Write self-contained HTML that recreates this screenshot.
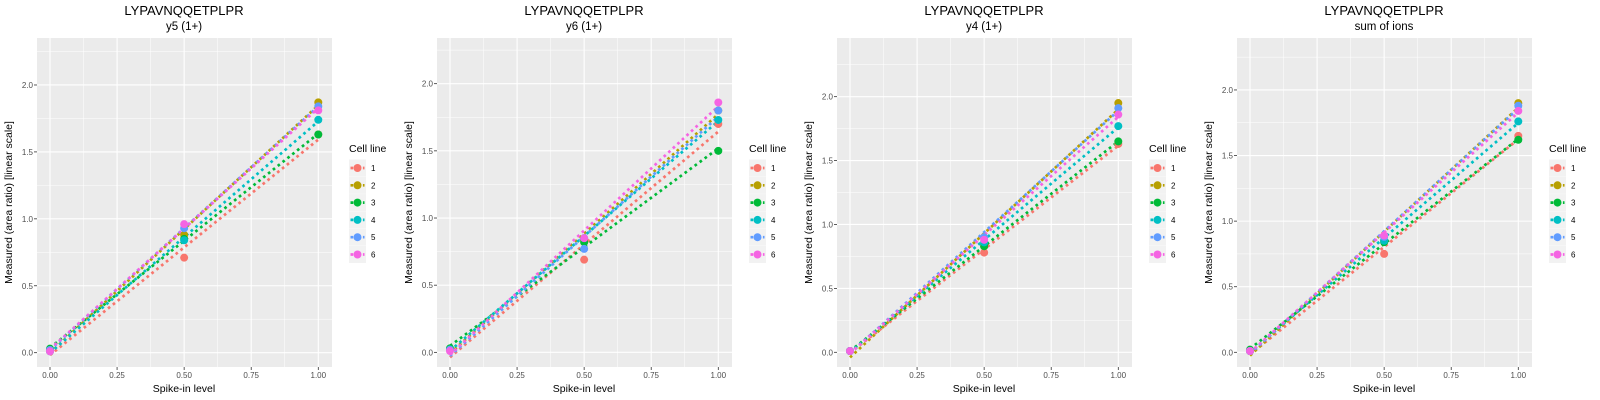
<!DOCTYPE html>
<html><head><meta charset="utf-8">
<style>
body{margin:0;background:#fff;}
svg{display:block;font-family:"Liberation Sans",Arial,sans-serif;}
</style></head>
<body>
<svg id="chart" width="1600" height="400" xmlns="http://www.w3.org/2000/svg"></svg>
<script>
const panelTitles = ["y5 (1+)", "y6 (1+)", "y4 (1+)", "sum of ions"];
const peptide = "LYPAVNQQETPLPR";
const xValues = [0, 0.5, 1];
const cellLines = ["1","2","3","4","5","6"];
const colors = ["#F8766D","#B79F00","#00BA38","#00BFC4","#619CFF","#F564E3"];
const xTicks = [0, 0.25, 0.5, 0.75, 1];
const xTickLabels = ["0.00","0.25","0.50","0.75","1.00"];
const yTicks = [0, 0.5, 1, 1.5, 2];
const yTickLabels = ["0.0","0.5","1.0","1.5","2.0"];
// y-axis limits per panel [min, max]
const yLimits = [[-0.107,2.351],[-0.109,2.340],[-0.115,2.459],[-0.112,2.396]];
// values per panel, per cell line, at xValues
const panel1 = [[0.02,0.71,1.63],[0.02,0.88,1.87],[0.03,0.85,1.63],[0.01,0.84,1.74],[0.02,0.93,1.84],[0.01,0.96,1.81]];
const panel2 = [[0.02,0.69,1.70],[0.02,0.83,1.80],[0.03,0.82,1.50],[0.02,0.85,1.73],[0.02,0.77,1.80],[0.01,0.85,1.86]];
const panel3 = [[0.01,0.78,1.63],[0.01,0.83,1.95],[0.01,0.83,1.65],[0.01,0.86,1.77],[0.01,0.90,1.91],[0.01,0.88,1.86]];
const panel4 = [[0.01,0.75,1.65],[0.01,0.85,1.90],[0.02,0.84,1.62],[0.01,0.85,1.76],[0.01,0.88,1.88],[0.01,0.89,1.84]];
const panels = [panel1, panel2, panel3, panel4];

const svg = document.getElementById('chart');
const NS = "http://www.w3.org/2000/svg";
function mk(tag, attrs, parent){const e=document.createElementNS(NS,tag);for(const k in attrs)e.setAttribute(k,attrs[k]);parent.appendChild(e);return e;}

const PL=37, PR=332, PT=38, PB=367, XL=0, XR=1;
const xpx0=50, xpx1=318.3;

panels.forEach((data, p) => {
  const ox = p*400;
  const g = mk('g',{transform:`translate(${ox},0)`}, svg);
  
  
  const [ymin,ymax]=yLimits[p];
  const X = v => xpx0 + (v - XL)/(XR-XL)*(xpx1-xpx0);
  const Y = v => PB - (v - ymin)/(ymax-ymin)*(PB-PT);
  const bg = mk('rect',{x:PL,y:PT,width:PR-PL,height:PB-PT,fill:'#EBEBEB'},g);
  
  
  for(let i=0;i<xTicks.length-1;i++){const v=(xTicks[i]+xTicks[i+1])/2;mk('line',{x1:X(v),x2:X(v),y1:PT,y2:PB,stroke:'#fff','stroke-width':0.5},g);}
  const minorY=[-0.25,0.25,0.75,1.25,1.75,2.25];
  minorY.forEach(v=>{const y=Y(v); if(y>PT&&y<PB) mk('line',{x1:PL,x2:PR,y1:y,y2:y,stroke:'#fff','stroke-width':0.5},g);});
  xTicks.forEach((v,i)=>{
    mk('line',{x1:X(v),x2:X(v),y1:PT,y2:PB,stroke:'#fff','stroke-width':1.1},g);
    mk('line',{x1:X(v),x2:X(v),y1:PB,y2:PB+3,stroke:'#333','stroke-width':0.8},g);
    const t=mk('text',{x:X(v),y:PB+11,'font-size':8,fill:'#4D4D4D','text-anchor':'middle'},g);
    t.textContent=xTickLabels[i];
    
    
  });
  yTicks.forEach((v,i)=>{
    mk('line',{x1:PL,x2:PR,y1:Y(v),y2:Y(v),stroke:'#fff','stroke-width':1.1},g);
    mk('line',{x1:PL-3,x2:PL,y1:Y(v),y2:Y(v),stroke:'#333','stroke-width':0.8},g);
    const t=mk('text',{x:PL-4,y:Y(v)+3,'font-size':8,fill:'#4D4D4D','text-anchor':'end'},g);
    t.textContent=yTickLabels[i];
    
    
  });
  data.forEach((vals,s)=>{
    const n=xValues.length;
    const mx=xValues.reduce((a,b)=>a+b,0)/n, my=vals.reduce((a,b)=>a+b,0)/n;
    let sxy=0,sxx=0;
    for(let i=0;i<n;i++){sxy+=(xValues[i]-mx)*(vals[i]-my);sxx+=(xValues[i]-mx)**2;}
    const b=sxy/sxx, a=my-b*mx;
    const ln=mk('line',{x1:X(0),y1:Y(a),x2:X(1),y2:Y(a+b),stroke:colors[s],'stroke-width':2.7,'stroke-dasharray':'2.7 3.5'},g);
    
    
  });
  data.forEach((vals,s)=>{
    vals.forEach((v,i)=>{
      const c=mk('circle',{cx:X(xValues[i]),cy:Y(v),r:4,fill:colors[s]},g);
      
      
    });
  });
  const t1=mk('text',{x:184,y:15,'font-size':13,fill:'#000','text-anchor':'middle'},g);
  t1.textContent=peptide;
  
  
  const t2=mk('text',{x:184,y:30,'font-size':11.5,fill:'#000','text-anchor':'middle'},g);
  t2.textContent=panelTitles[p];
  
  
  const xt=mk('text',{x:184,y:392,'font-size':10.5,fill:'#000','text-anchor':'middle'},g);
  xt.textContent='Spike-in level';
  
  
  const yt=mk('text',{x:0,y:0,'font-size':10.5,fill:'#000','text-anchor':'middle',transform:`translate(12,${(PT+PB)/2}) rotate(-90)`},g);
  yt.textContent='Measured (area ratio) [linear scale]';
  
  
  const lt=mk('text',{x:349,y:152,'font-size':10.5,fill:'#000'},g);
  lt.textContent='Cell line';
  
  
  cellLines.forEach((c,s)=>{
    const cy=168+s*17.3;
    const le=mk('g',{},g);
    
    
    mk('rect',{x:349,y:cy-8.5,width:17,height:17,fill:'#F2F2F2'},le);
    mk('line',{x1:350.5,x2:364.5,y1:cy,y2:cy,stroke:colors[s],'stroke-width':2.7,'stroke-dasharray':'2.7 3.5'},le);
    mk('circle',{cx:357.5,cy:cy,r:4,fill:colors[s]},le);
    const tx=mk('text',{x:371,y:cy+3,'font-size':8,fill:'#000'},le);
    tx.textContent=c;
  });
});
</script>
</body></html>
